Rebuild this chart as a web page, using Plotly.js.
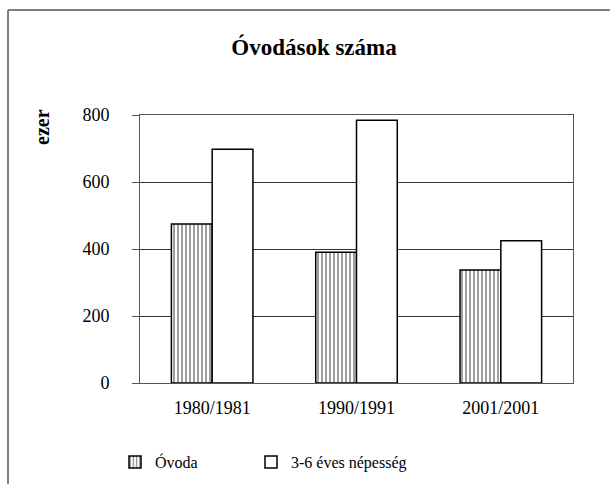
<!DOCTYPE html>
<html>
<head>
<meta charset="utf-8">
<script src="https://cdn.plot.ly/plotly-3.0.1.min.js"></script>
<style>html,body{margin:0;padding:0;background:#fff;}#chart{width:610px;height:484px;}</style>
</head>
<body>
<div id="chart"></div>
<script>
var categories = ['1980/1981', '1990/1991', '2001/2001'];
var ovoda = [475, 390, 337];
var nepesseg = [698, 784, 425];
var seriesNames = ['Óvoda', '3-6 éves népesség'];
var yTicks = [0, 200, 400, 600, 800];

var W = 610, H = 484, L = 140, R = 37, T = 115, B = 101;
var pw = W - L - R, ph = H - T - B;
function px(x) { return (x - L) / pw; }
function py(y) { return (H - B - y) / ph; }

var font = '"Liberation Serif", "Times New Roman", serif';

var traces = [
  {
    type: 'bar', x: categories, y: ovoda, name: seriesNames[0], legend: 'legend',
    marker: {color: '#fff', line: {color: '#000', width: 1.5},
      pattern: {shape: '|', size: 4, solidity: 0.38, fgcolor: '#000', bgcolor: '#fff', fillmode: 'overlay'}},
    hoverinfo: 'skip'
  },
  {
    type: 'bar', x: categories, y: nepesseg, name: seriesNames[1], legend: 'legend2',
    marker: {color: '#fff', line: {color: '#000', width: 1.5}},
    hoverinfo: 'skip'
  }
];

function legendAt(xpix) {
  return {
    orientation: 'h', x: px(xpix), xanchor: 'left', y: py(462), yanchor: 'middle',
    font: {family: font, size: 16, color: '#000'},
    bgcolor: 'rgba(0,0,0,0)', borderwidth: 0
  };
}

var layout = {
  width: W, height: H,
  margin: {l: L, r: R, t: T, b: B, pad: 0, autoexpand: false},
  paper_bgcolor: '#fff', plot_bgcolor: '#fff',
  font: {family: font, color: '#000', size: 18},
  title: {text: '<b>Óvodások száma</b>', font: {family: font, size: 23, color: '#000'},
    x: px(314), xref: 'paper', xanchor: 'center', y: 1 - 47 / H, yanchor: 'middle'},
  barmode: 'group', bargap: 0.435, bargroupgap: 0,
  xaxis: {
    type: 'category', showgrid: false, showline: true, mirror: true, linecolor: '#555', linewidth: 1,
    ticks: '', tickfont: {family: font, size: 18}, ticklabelstandoff: 8, zeroline: false
  },
  yaxis: {
    range: [0, 800], tickvals: yTicks, ticktext: yTicks.map(String),
    showgrid: true, gridcolor: '#333', gridwidth: 1,
    showline: true, mirror: true, linecolor: '#555', linewidth: 1,
    ticks: 'outside', ticklen: 7, tickcolor: '#555', tickfont: {family: font, size: 18},
    ticklabelstandoff: 19, zeroline: false, fixedrange: true
  },
  showlegend: true,
  legend: legendAt(115),
  legend2: legendAt(251),
  annotations: [
    {text: '<b>ezer</b>', xref: 'paper', yref: 'paper', x: px(42), y: py(127),
      xanchor: 'center', yanchor: 'middle', textangle: -90, showarrow: false,
      font: {family: font, size: 20, color: '#000'}}
  ],
  shapes: [
    {type: 'line', xref: 'paper', yref: 'paper', x0: px(8), x1: px(8), y0: py(10), y1: py(H + 5),
      line: {color: '#555', width: 1.5}},
    {type: 'line', xref: 'paper', yref: 'paper', x0: px(8), x1: px(W + 5), y0: py(10), y1: py(10),
      line: {color: '#555', width: 1.5}}
  ]
};

Plotly.newPlot('chart', traces, layout, {displayModeBar: false, staticPlot: true});
</script>
</body>
</html>
